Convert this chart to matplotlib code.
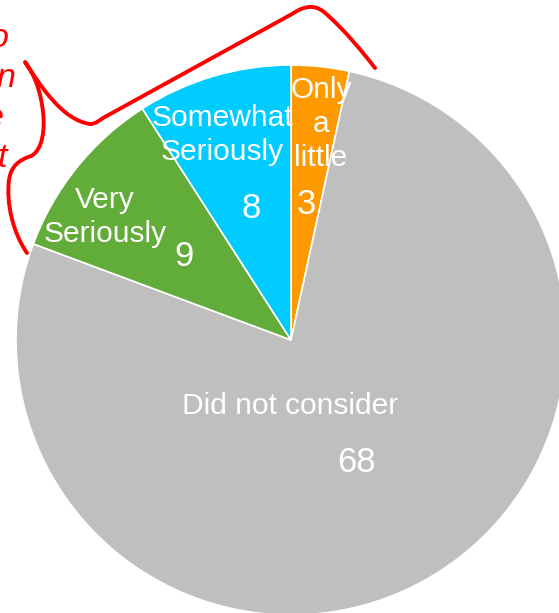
import matplotlib
matplotlib.use("Agg")
import matplotlib.pyplot as plt
from matplotlib.path import Path
from matplotlib.patches import PathPatch
from matplotlib.transforms import Affine2D

plt.rcParams['font.family'] = ['Liberation Sans', 'DejaVu Sans']

# ---- data ----
categories = ["Only\na\nlittle", "Did not consider", "Very\nSeriously", "Somewhat\nSeriously"]
values = [3, 68, 9, 8]
colors = ["#FF9900", "#BFBFBF", "#62AC3A", "#00CCFF"]

W, H = 559, 613
fig = plt.figure(figsize=(W / 100, H / 100), dpi=100)
ax = fig.add_axes([0, 0, 1, 1])
ax.set_axis_off()

# pixel layout of the pie
cx, cy, R = 291, 340, 275

ax.pie(values, colors=colors, startangle=90, counterclock=False, radius=1.0,
       wedgeprops=dict(edgecolor="white", linewidth=1.2))
ax.set_xlim(-cx / R, (W - cx) / R)
ax.set_ylim(-(H - cy) / R, cy / R)
ax.set_aspect('auto')


def d(px, py):
    return (px - cx) / R, (cy - py) / R


# label positions (pixel centers)
label_pos = [(321, 124), (290, 406), (105, 217), (222, 135)]
value_pos = [(306, 204), (357, 462), (184, 256), (251, 209)]
for cat, val, lp, vp in zip(categories, values, label_pos, value_pos):
    x, y = d(*lp)
    ax.text(x, y, cat, ha='center', va='center', color='white', fontsize=21.5,
            linespacing=1.28)
    x, y = d(*vp)
    ax.text(x, y, str(val), ha='center', va='center', color='white', fontsize=25)

# red brace annotation (pixel coords, y down)
pix = Affine2D().scale(1 / W, -1 / H).translate(0, 1) + fig.transFigure
verts = [
    (27, 253), (13, 233), (6, 203), (9, 180),
    (11, 166), (19, 160), (31, 156),
    (43, 150), (45, 128), (43, 112),
    (41, 93), (35, 75), (25, 62),
    (40, 85), (62, 120), (90, 124),
    (96, 124), (100, 120), (103, 118),
    (292, 14),
    (304, 6), (314, 4), (324, 12),
    (345, 30), (365, 55), (375, 68),
]
codes = [Path.MOVETO] + [Path.CURVE4] * 18 + [Path.LINETO] + [Path.CURVE4] * 6
brace = PathPatch(Path(verts, codes), transform=pix, facecolor='none',
                  edgecolor='#FF0000', linewidth=2.8, capstyle='round', joinstyle='round')
fig.add_artist(brace)

# clipped red italic text at left edge
note_letters = ["o", "n", "e", "t"]
note_pos = [(9, 47), (15, 87), (4, 127), (7, 167)]
for ch, (px, py) in zip(note_letters, note_pos):
    fig.text(px / W, 1 - py / H, ch, ha='right', va='baseline', color='#FF0000',
             fontsize=24.5, style='italic')

fig.savefig("out.png", dpi=100)
